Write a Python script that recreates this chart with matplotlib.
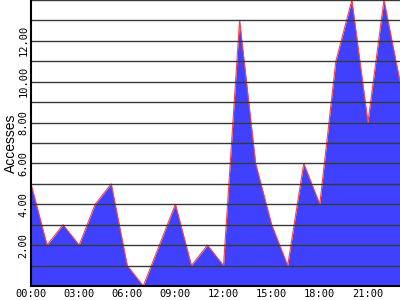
import matplotlib
matplotlib.use("Agg")
import matplotlib.pyplot as plt

# hourly accesses
hours = list(range(24))
accesses = [5, 2, 3, 2, 4, 5, 1, 0, 2, 4, 1, 2, 1, 13, 6, 3, 1, 6, 4, 11, 14, 8, 14, 10]
x_ticks = [0, 3, 6, 9, 12, 15, 18, 21]
x_labels = ["00:00", "03:00", "06:00", "09:00", "12:00", "15:00", "18:00", "21:00"]
y_grid = list(range(1, 15))
y_labels = ["%.2f" % v if v % 2 == 0 and v <= 12 else "" for v in y_grid]

fig = plt.figure(figsize=(4, 3), dpi=100)
ax = fig.add_axes([31 / 400, 14 / 300, 369 / 400, 286 / 300])

ax.fill_between(hours, accesses, 0, color="#4040ff", linewidth=0, zorder=2)
ax.plot(hours, accesses, color="#ff4040", linewidth=0.8, zorder=3)

ax.set_xlim(0, 23)
ax.set_ylim(0, 14)

# grid lines every unit, labels every two
for v in y_grid:
    ax.axhline(v, color="#383838", linewidth=1.0, zorder=4)

ax.set_yticks(y_grid)
ax.set_yticklabels(y_labels, rotation=90, va="center", family="DejaVu Sans Mono", fontsize=7.5)
ax.set_xticks(x_ticks)
ax.set_xticklabels(x_labels, family="DejaVu Sans Mono", fontsize=7.5)
ax.tick_params(length=0, pad=2)

ax.set_ylabel("Accesses", fontsize=10, labelpad=0, family="Liberation Sans")

for side in ["top", "right"]:
    ax.spines[side].set_visible(False)
for side in ["left", "bottom"]:
    ax.spines[side].set_linewidth(1.5)
    ax.spines[side].set_zorder(5)

fig.savefig("out.png", dpi=100)
